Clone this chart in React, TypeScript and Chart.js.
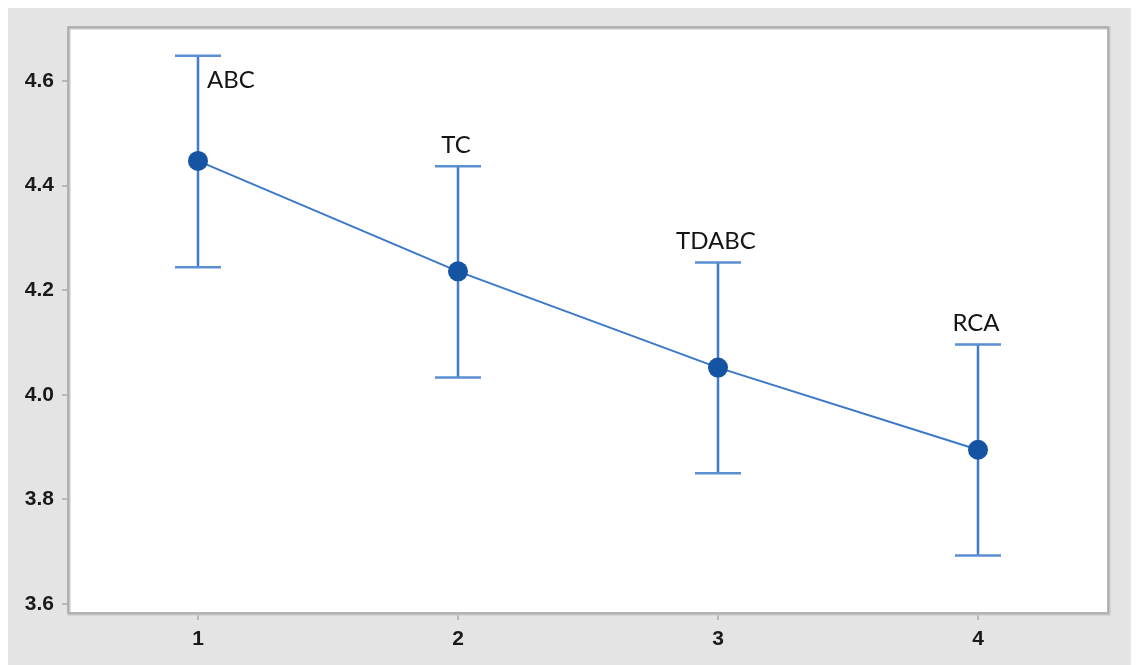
import React, { useEffect, useRef } from "react";
import { Chart, registerables } from "chart.js";

Chart.register(...registerables);

const categories = [1, 2, 3, 4];
const groupLabels = ["ABC", "TC", "TDABC", "RCA"];
const means = [4.447, 4.236, 4.052, 3.895];
const lower = [4.244, 4.033, 3.85, 3.693];
const upper = [4.648, 4.437, 4.253, 4.096];
const yTicks = [3.6, 3.8, 4.0, 4.2, 4.4, 4.6];
const labelPlacement = ["right", "above", "above", "above"];

const BG = "#e4e4e4";

export default function App() {
  const ref = useRef<HTMLCanvasElement | null>(null);

  useEffect(() => {
    if (!ref.current) return;
    const bgPlugin = {
      id: "bgPlugin",
      beforeDraw(chart: any) {
        const { ctx, chartArea, width, height } = chart;
        ctx.save();
        ctx.fillStyle = BG;
        ctx.fillRect(0, 0, width, height);
        ctx.fillStyle = "#ffffff";
        ctx.fillRect(chartArea.left, chartArea.top, chartArea.right - chartArea.left, chartArea.bottom - chartArea.top);
        ctx.restore();
      },
      afterDraw(chart: any) {
        const { ctx, chartArea } = chart;
        ctx.save();
        ctx.strokeStyle = "#c4c4c4";
        ctx.lineWidth = 3;
        ctx.strokeRect(chartArea.left + 1, chartArea.top + 1, chartArea.right - chartArea.left, chartArea.bottom - chartArea.top);
        ctx.strokeStyle = "#a8a8a8";
        ctx.lineWidth = 1.5;
        ctx.strokeRect(chartArea.left, chartArea.top, chartArea.right - chartArea.left, chartArea.bottom - chartArea.top);
        ctx.restore();
      },
    };
    const errPlugin = {
      id: "errPlugin",
      beforeDatasetsDraw(chart: any) {
        const { ctx } = chart;
        const xs = chart.scales.x;
        const ys = chart.scales.y;
        ctx.save();
        ctx.lineWidth = 2.5;
        categories.forEach((c, i) => {
          const x = xs.getPixelForValue(c);
          const yl = ys.getPixelForValue(lower[i]);
          const yu = ys.getPixelForValue(upper[i]);
          const hw = 23;
          ctx.strokeStyle = "#3f7bc8";
          ctx.beginPath();
          ctx.moveTo(x, yl);
          ctx.lineTo(x, yu);
          ctx.stroke();
          ctx.strokeStyle = "#5a8fd2";
          ctx.beginPath();
          ctx.moveTo(x - hw, yl);
          ctx.lineTo(x + hw, yl);
          ctx.moveTo(x - hw, yu);
          ctx.lineTo(x + hw, yu);
          ctx.stroke();
        });
        ctx.restore();
      },
      afterDatasetsDraw(chart: any) {
        const { ctx } = chart;
        const xs = chart.scales.x;
        const ys = chart.scales.y;
        ctx.save();
        ctx.fillStyle = "#151515";
        ctx.font = "24px Lato, 'Open Sans', sans-serif";
        ctx.textBaseline = "middle";
        categories.forEach((c, i) => {
          const x = xs.getPixelForValue(c);
          const yu = ys.getPixelForValue(upper[i]);
          if (labelPlacement[i] === "right") {
            ctx.textAlign = "left";
            ctx.fillText(groupLabels[i], x + 9, yu + 24);
          } else {
            ctx.textAlign = "center";
            ctx.fillText(groupLabels[i], x - 2, yu - 21);
          }
        });
        ctx.restore();
      },
    };

    const tickFont = { family: "'Liberation Sans', Arial, sans-serif", size: 21, weight: "bold" as const };

    const chart = new Chart(ref.current, {
      type: "line",
      data: {
        datasets: [
          {
            data: categories.map((c, i) => ({ x: c, y: means[i] })),
            borderColor: "#3b78c8",
            borderWidth: 2,
            pointRadius: 10,
            pointHoverRadius: 10,
            pointBackgroundColor: "#1553a3",
            pointBorderColor: "#1553a3",
            pointBorderWidth: 0,
            tension: 0,
          },
        ],
      },
      options: {
        animation: false,
        responsive: false,
        maintainAspectRatio: false,
        events: [],
        layout: { padding: { top: 22, right: 31, left: 0, bottom: 0 } },
        plugins: { legend: { display: false }, tooltip: { enabled: false } },
        scales: {
          x: {
            type: "linear",
            min: 0.5,
            max: 4.5,
            afterBuildTicks(scale: any) {
              scale.ticks = categories.map((v) => ({ value: v }));
            },
            afterFit(scale: any) {
              scale.height = 52;
            },
            border: { display: false },
            grid: { drawOnChartArea: false, drawTicks: true, tickLength: 7, color: "#b8b8b8", lineWidth: 2 },
            ticks: {
              padding: 7,
              color: "#1a1a1a",
              font: tickFont,
              callback: (v: any) => String(v),
            },
          },
          y: {
            type: "linear",
            min: 3.583,
            max: 4.703,
            afterBuildTicks(scale: any) {
              scale.ticks = yTicks.map((v) => ({ value: v }));
            },
            afterFit(scale: any) {
              scale.width = 60;
            },
            border: { display: false },
            grid: { drawOnChartArea: false, drawTicks: true, tickLength: 6, color: "#b8b8b8", lineWidth: 2 },
            ticks: {
              padding: 8,
              color: "#1a1a1a",
              font: tickFont,
              callback: (v: any) => Number(v).toFixed(1),
            },
          },
        },
      },
      plugins: [bgPlugin, errPlugin],
    });
    return () => chart.destroy();
  }, []);

  return (
    <div style={{ marginTop: -3, width: 1131, height: 660, background: BG }}>
      <canvas ref={ref} width={1131} height={660} style={{ display: "block" }} />
    </div>
  );
}
